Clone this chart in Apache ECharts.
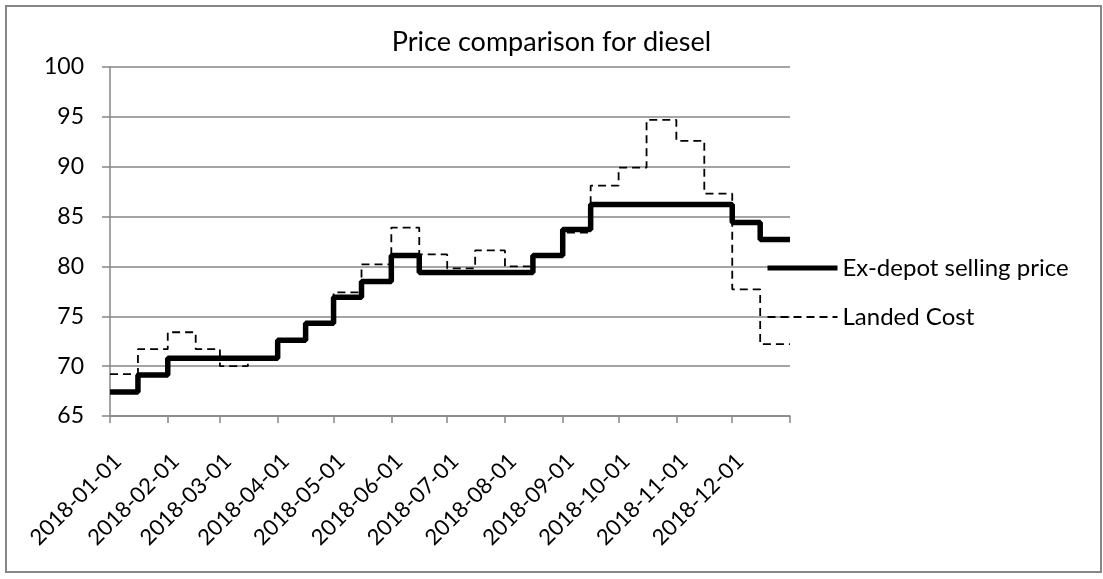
<!DOCTYPE html>
<html>
<head>
<meta charset="utf-8">
<script src="https://cdn.jsdelivr.net/npm/echarts@6/dist/echarts.min.js"></script>
<style>html,body{margin:0;padding:0;background:#fff}#c{width:1103px;height:579px}</style>
</head>
<body>
<div id="c"></div>
<script>
// Semi-monthly price dates (last entry closes the final step)
const dates = ['2018-01-01','2018-01-16','2018-02-01','2018-02-16','2018-03-01','2018-03-16','2018-04-01','2018-04-16','2018-05-01','2018-05-16','2018-06-01','2018-06-16','2018-07-01','2018-07-16','2018-08-01','2018-08-16','2018-09-01','2018-09-16','2018-10-01','2018-10-16','2018-11-01','2018-11-16','2018-12-01','2018-12-16','2019-01-01'];
const exDepot = [67.4,69.1,70.8,70.8,70.8,70.8,72.6,74.3,76.9,78.5,81.1,79.4,79.4,79.4,79.4,81.1,83.7,86.2,86.2,86.2,86.2,86.2,84.4,82.7,82.7];
const landed  = [69.2,71.7,73.4,71.7,70.0,70.8,72.6,74.4,77.4,80.2,83.9,81.2,79.8,81.6,80.0,81.0,83.4,88.1,89.9,94.7,92.6,87.3,77.7,72.2,72.2];
const labelMonths = ['2018-01-01','2018-02-01','2018-03-01','2018-04-01','2018-05-01','2018-06-01','2018-07-01','2018-08-01','2018-09-01','2018-10-01','2018-11-01','2018-12-01'];
const tickMonths = labelMonths.concat(['2019-01-01']);
const seriesNames = ['Ex-depot selling price','Landed Cost'];
const titleText = 'Price comparison for diesel';

function ts(s){const p=s.split('-').map(Number);return Date.UTC(p[0],p[1]-1,p[2]);}
function pad(n){return (n<10?'0':'')+n;}
function fmt(v){const d=new Date(v);return d.getUTCFullYear()+'-'+pad(d.getUTCMonth()+1)+'-'+pad(d.getUTCDate());}

const FONT = 'Lato';
const GRAY = '#868686';
const NOSYM = {color:'rgba(0,0,0,0)',borderWidth:0,borderColor:'rgba(0,0,0,0)'};
const chart = echarts.init(document.getElementById('c'));
chart.setOption({
  animation:false,
  backgroundColor:'#fff',
  graphic:[{type:'rect',shape:{x:6,y:6,width:1095,height:566},style:{fill:'none',stroke:GRAY,lineWidth:2},silent:true}],
  title:{text:titleText,left:'center',top:24,textStyle:{fontFamily:FONT,fontSize:27,fontWeight:'normal',color:'#000'}},
  legend:{
    orient:'vertical',left:760,top:251,itemWidth:70,itemHeight:24,itemGap:25,itemTextGap:5,
    textStyle:{fontFamily:FONT,fontSize:24,color:'#000'},
    data:[
      {name:seriesNames[0],itemStyle:NOSYM,lineStyle:{width:5,color:'#000',type:'solid'}},
      {name:seriesNames[1],itemStyle:NOSYM,lineStyle:{width:1.8,color:'#000',type:[8,5]}}
    ]
  },
  grid:{left:110,top:67,right:313,bottom:163,containLabel:false},
  xAxis:{
    type:'value',min:ts('2018-01-01'),max:ts('2019-01-01'),
    axisLine:{show:true,lineStyle:{color:GRAY,width:1.5}},
    axisTick:{show:true,length:7,lineStyle:{color:GRAY,width:1.5},customValues:tickMonths.map(ts)},
    axisLabel:{rotate:45,margin:34,verticalAlign:'top',fontFamily:FONT,fontSize:22,color:'#000',customValues:labelMonths.map(ts),formatter:fmt},
    splitLine:{show:false}
  },
  yAxis:{
    type:'value',min:65,max:100,interval:5,
    axisLine:{show:true,lineStyle:{color:GRAY,width:1.5}},
    axisTick:{show:true,length:8,lineStyle:{color:GRAY,width:1.5}},
    axisLabel:{margin:26,fontFamily:FONT,fontSize:23,color:'#000'},
    splitLine:{show:true,lineStyle:{color:GRAY,width:1.5}}
  },
  series:[
    {name:seriesNames[0],type:'line',step:'end',symbol:'none',data:dates.map((d,i)=>[ts(d),exDepot[i]]),lineStyle:{color:'#000',width:5.5},itemStyle:{color:'#000'}},
    {name:seriesNames[1],type:'line',step:'end',symbol:'none',data:dates.map((d,i)=>[ts(d),landed[i]]),lineStyle:{color:'#000',width:1.8,type:[8,5]},itemStyle:{color:'#000'}}
  ]
});
</script>
</body>
</html>
